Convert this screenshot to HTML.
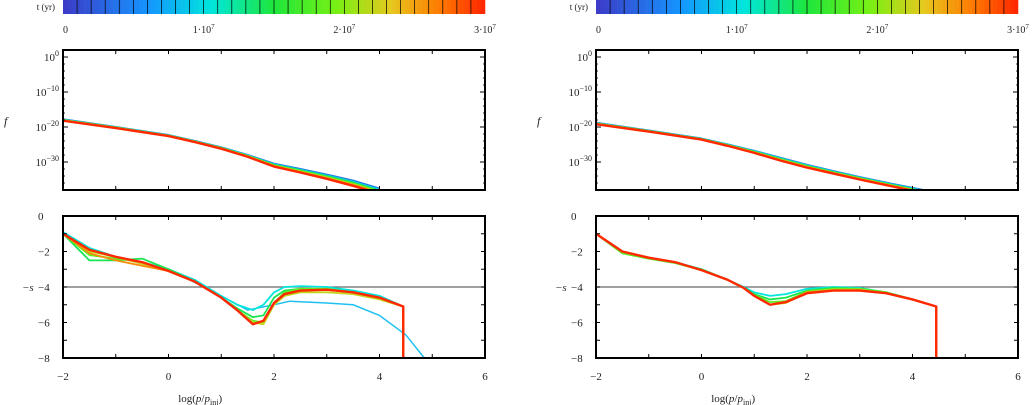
<!DOCTYPE html>
<html><head><meta charset="utf-8"><style>
html,body{margin:0;padding:0;background:#fff;width:1034px;height:405px;overflow:hidden}
svg{display:block}
text{font-family:"Liberation Serif",serif;fill:#222}
</style></head><body>
<svg id="chart" width="1034" height="405" viewBox="0 0 1034 405" xmlns="http://www.w3.org/2000/svg"></svg>
<script>
// ---- data ----
const xTicks = [-2, 0, 2, 4, 6];
const sTicks = [0, -2, -4, -6, -8];
const fTicks = [0, -10, -20, -30];
const cbTickMant = ["0", "1·10", "2·10", "3·10"];
const cbTickExp = ["", "7", "7", "7"];
const cbTickValues = [0, 1e7, 2e7, 3e7];
const seriesTimes = [0.5e7, 1.0e7, 1.5e7, 2.0e7, 2.5e7, 3.0e7];

// left panel
const fXL = [-2, -1, 0, 0.5, 1, 1.5, 2, 2.5, 3, 3.5, 4];
const fL_early = [-17.8, -20, -22.3, -24, -25.8, -28, -30.5, -32, -33.6, -35.3, -37.6];
const fL_late  = [-18.2, -20.3, -22.6, -24.3, -26.2, -28.5, -31.3, -33, -34.8, -36.8, -39];
const sXL = [-2, -1.5, -1, -0.5, 0, 0.5, 1, 1.3, 1.6, 1.8, 2, 2.2, 2.5, 3, 3.5, 4, 4.45];
const sL_s1 = [-0.9, -1.8, -2.3, -2.6, -3.0, -3.6, -4.5, -5.0, -5.3, -5.0, -4.3, -4.0, -3.95, -4.0, -4.2, -4.5, -5.1];
const sL_s2 = [-1.0, -2.5, -2.5, -2.4, -3.0, -3.7, -4.6, -5.2, -5.7, -5.6, -4.6, -4.2, -4.1, -4.15, -4.3, -4.6, -5.1];
const sL_s3 = [-1.0, -2.2, -2.4, -2.6, -3.1, -3.7, -4.6, -5.3, -5.9, -6.0, -4.9, -4.3, -4.1, -4.1, -4.3, -4.6, -5.1];
const sL_s4 = [-1.0, -2.0, -2.3, -2.7, -3.1, -3.7, -4.6, -5.3, -6.0, -6.1, -5.0, -4.5, -4.3, -4.3, -4.4, -4.7, -5.1];
const sL_s5 = [-1.0, -2.1, -2.5, -2.8, -3.1, -3.7, -4.6, -5.3, -6.1, -5.9, -4.9, -4.4, -4.2, -4.15, -4.3, -4.6, -5.1];
const sL_s6 = [-1.0, -1.9, -2.3, -2.6, -3.1, -3.7, -4.6, -5.3, -6.1, -5.9, -4.9, -4.4, -4.2, -4.15, -4.3, -4.6, -5.1];
const cyanX = [-2, -1.5, -1, 0, 1, 1.5, 2, 2.3, 3, 3.5, 4, 4.5, 4.85];
const cyanS = [-0.9, -1.8, -2.3, -3.0, -4.5, -5.3, -5.0, -4.8, -4.9, -5.0, -5.6, -6.7, -8];

// right panel
const fXR = [-2, -1, 0, 0.5, 1, 1.5, 2, 2.5, 3, 3.5, 4, 4.3];
const fR_early = [-18.8, -21, -23.3, -25, -26.8, -28.8, -30.8, -32.6, -34.3, -35.9, -37.4, -38.3];
const fR_late  = [-19.2, -21.3, -23.6, -25.4, -27.4, -29.6, -31.6, -33.3, -35.0, -36.6, -38.2, -39.2];
const sXR = [-2, -1.5, -1, -0.5, 0, 0.5, 0.8, 1, 1.3, 1.6, 2, 2.5, 3, 3.5, 4, 4.45];
const sR_s1 = [-1.0, -2.0, -2.35, -2.6, -3.0, -3.6, -4.0, -4.3, -4.5, -4.4, -4.1, -4.0, -4.05, -4.3, -4.7, -5.1];
const sR_s2 = [-1.0, -2.1, -2.4, -2.65, -3.0, -3.6, -4.05, -4.4, -4.7, -4.6, -4.2, -4.05, -4.1, -4.3, -4.7, -5.1];
const sR_s3 = [-1.0, -2.1, -2.4, -2.65, -3.05, -3.6, -4.05, -4.45, -4.85, -4.8, -4.25, -4.1, -4.1, -4.3, -4.7, -5.1];
const sR_s4 = [-1.0, -2.0, -2.35, -2.6, -3.05, -3.6, -4.05, -4.5, -5.0, -4.9, -4.3, -4.15, -4.15, -4.35, -4.7, -5.1];
const sR_s5 = [-1.0, -2.0, -2.35, -2.6, -3.05, -3.6, -4.05, -4.5, -5.0, -4.85, -4.3, -4.2, -4.2, -4.35, -4.7, -5.1];
const sR_s6 = [-1.0, -2.0, -2.35, -2.6, -3.05, -3.6, -4.05, -4.5, -5.0, -4.85, -4.35, -4.2, -4.2, -4.35, -4.7, -5.1];

// ---- drawing ----
const NS = "http://www.w3.org/2000/svg";
const svg = document.getElementById("chart");
function el(tag, attrs, parent) {
  const e = document.createElementNS(NS, tag);
  for (const k in attrs) e.setAttribute(k, attrs[k]);
  (parent || svg).appendChild(e);
  return e;
}
function jet(t) {
  const stops = [[0,[60,60,200]],[0.2,[20,150,255]],[0.35,[0,230,220]],[0.5,[30,230,60]],[0.65,[120,240,20]],[0.78,[230,200,30]],[0.9,[255,120,0]],[1,[255,40,0]]];
  for (let i = 1; i < stops.length; i++) {
    if (t <= stops[i][0]) {
      const a = stops[i-1], b = stops[i], u = (t - a[0]) / (b[0] - a[0]);
      const c = a[1].map((v, j) => Math.round(v + (b[1][j] - v) * u));
      return `rgb(${c[0]},${c[1]},${c[2]})`;
    }
  }
  return "rgb(255,40,0)";
}
const T0 = 0, T1 = 3e7;

function panel(px0, side, sData, fData) {
  const px1 = px0 + 422;
  const xs = v => px0 + (v + 2) / 8 * (px1 - px0);
  // colorbar
  const cb = el("g", {});
  
  
  for (let i = 0; i < 100; i++) {
    const r = el("rect", {x: px0 + i * 4.22, y: 0, width: 4.5, height: 14, fill: jet(i / 99)}, cb);
    
    
  }
  for (let i = 1; i < 30; i++) {
    const l = el("line", {x1: px0 + i * 422 / 30, x2: px0 + i * 422 / 30, y1: 0, y2: 14, stroke: "#000", "stroke-width": 0.7}, cb);
    
    
  }
  const cbt = el("text", {x: px0 - 8, y: 10, "font-size": 9, "text-anchor": "end"}, cb);
  cbt.textContent = "t (yr)";
  
  
  cbTickValues.forEach((v, i) => {
    const x = px0 + (v - T0) / (T1 - T0) * 422;
    const t = el("text", {x: x, y: 33, "font-size": 10, "text-anchor": i === 0 ? "start" : "middle"}, cb);
    t.innerHTML = cbTickMant[i] + (cbTickExp[i] ? `<tspan dy="-4" font-size="7">${cbTickExp[i]}</tspan>` : "");
    
    
  });

  // top f panel
  const fy0 = 50, fy1 = 190;
  const fys = v => fy0 + (2 - v) / 40 * (fy1 - fy0);
  const gT = el("g", {});
  
  
  const cp = "clipT" + side;
  const cdef = el("clipPath", {id: cp}, gT);
  el("rect", {x: px0, y: fy0, width: 422, height: fy1 - fy0}, cdef);
  const [fX, fE, fLt] = fData;
  for (let k = 0; k < 6; k++) {
    const u = k / 5;
    const pts = fX.map((x, i) => xs(x) + "," + fys(fE[i] + (fLt[i] - fE[i]) * u)).join(" ");
    const p = el("polyline", {points: pts, fill: "none", stroke: jet(seriesTimes[k] / T1 * 0.7 + 0.3 * u), "stroke-width": k === 5 ? 2.4 : 2, "stroke-linejoin": "round", "clip-path": `url(#${cp})`}, gT);
    
    
  }
  const fr = el("rect", {x: px0, y: fy0, width: 422, height: fy1 - fy0, fill: "none", stroke: "#000", "stroke-width": 2}, gT);
  
  
  fTicks.forEach(v => {
    const y = fys(v);
    el("line", {x1: px0, x2: px0 + 5, y1: y, y2: y, stroke: "#000"}, gT);
    el("line", {x1: px1, x2: px1 - 5, y1: y, y2: y, stroke: "#000"}, gT);
    const t = el("text", {x: px0 - 4, y: y + 4, "font-size": 11, "text-anchor": "end"}, gT);
    t.innerHTML = `10<tspan dy="-5" font-size="8">${v === 0 ? "0" : "−" + (-v)}</tspan>`;
    
    
  });
  for (let v = 2; v >= -38; v -= 2) {
    const y = fys(v);
    el("line", {x1: px0, x2: px0 + 2, y1: y, y2: y, stroke: "#000", "stroke-width": 0.8}, gT);
    el("line", {x1: px1, x2: px1 - 2, y1: y, y2: y, stroke: "#000", "stroke-width": 0.8}, gT);
  }
  for (let v = -1; v <= 5; v++) {
    el("line", {x1: xs(v), x2: xs(v), y1: fy0, y2: fy0 + 4, stroke: "#000"}, gT);
    el("line", {x1: xs(v), x2: xs(v), y1: fy1, y2: fy1 - 4, stroke: "#000"}, gT);
  }
  const fl = el("text", {x: px0 - 59, y: 125, "font-size": 12, "font-style": "italic"}, gT);
  fl.textContent = "f";
  
  

  // bottom s panel
  const sy0 = 216, sy1 = 358;
  const sys = v => sy0 + (-v) / 8 * (sy1 - sy0);
  const gB = el("g", {});
  
  
  const cb2 = "clipB" + side;
  const cdef2 = el("clipPath", {id: cb2}, gB);
  el("rect", {x: px0, y: sy0, width: 422, height: sy1 - sy0 + 4}, cdef2);
  const ref = el("line", {x1: px0, x2: px1, y1: sys(-4), y2: sys(-4), stroke: "#666", "stroke-width": 1.2}, gB);
  
  
  const [sX, list, extra] = sData;
  if (extra) {
    const pts = extra[0].map((x, i) => xs(x) + "," + sys(extra[1][i])).join(" ");
    const p = el("polyline", {points: pts, fill: "none", stroke: "#20c0f0", "stroke-width": 1.5, "stroke-linejoin": "round", "clip-path": `url(#${cb2})`}, gB);
    
    
  }
  list.forEach((arr, k) => {
    let pts = sX.map((x, i) => xs(x) + "," + sys(arr[i]));
    pts.push(xs(sX[sX.length - 1]) + "," + sys(-8));
    const p = el("polyline", {points: pts.join(" "), fill: "none", stroke: jet(0.35 + 0.13 * k), "stroke-width": k === list.length - 1 ? 2.4 : 1.8, "stroke-linejoin": "round", "clip-path": `url(#${cb2})`}, gB);
    
    
  });
  const sr = el("rect", {x: px0, y: sy0, width: 422, height: sy1 - sy0, fill: "none", stroke: "#000", "stroke-width": 2}, gB);
  
  
  for (let v = 0; v >= -8; v--) {
    const y = sys(v);
    el("line", {x1: px0, x2: px0 + 4, y1: y, y2: y, stroke: "#000"}, gB);
    el("line", {x1: px1, x2: px1 - 4, y1: y, y2: y, stroke: "#000"}, gB);
  }
  sTicks.forEach(v => {
    const t = el("text", {x: px0 - 25, y: sys(v) + 4, "font-size": 11}, gB);
    t.textContent = v === 0 ? "0" : "−" + (-v);
    
    
  });
  for (let v = -1; v <= 5; v++) {
    el("line", {x1: xs(v), x2: xs(v), y1: sy0, y2: sy0 + 4, stroke: "#000"}, gB);
    el("line", {x1: xs(v), x2: xs(v), y1: sy1, y2: sy1 - 4, stroke: "#000"}, gB);
  }
  xTicks.forEach(v => {
    const t = el("text", {x: xs(v), y: 380, "font-size": 11, "text-anchor": "middle"}, gB);
    t.textContent = v < 0 ? "−" + (-v) : String(v);
    
    
  });
  const sl = el("text", {x: px0 - 41, y: sys(-4) + 4, "font-size": 11, "font-style": "italic"}, gB);
  sl.textContent = "−s";
  
  
  const xl = el("text", {x: xs(0.6), y: 402, "font-size": 11, "text-anchor": "middle"}, gB);
  xl.innerHTML = `log(<tspan font-style="italic">p</tspan>/<tspan font-style="italic">p</tspan><tspan dy="3" font-size="8">inj</tspan><tspan dy="-3">)</tspan>`;
  
  
}

panel(63, "left", [sXL, [sL_s1, sL_s2, sL_s3, sL_s4, sL_s5, sL_s6], [cyanX, cyanS]], [fXL, fL_early, fL_late]);
panel(596, "right", [sXR, [sR_s1, sR_s2, sR_s3, sR_s4, sR_s5, sR_s6], null], [fXR, fR_early, fR_late]);
</script>
</body></html>
